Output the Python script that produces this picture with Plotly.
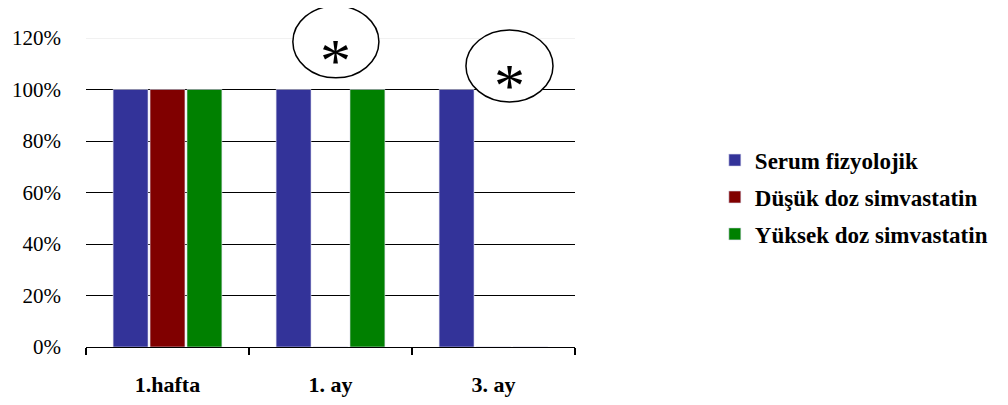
import plotly.graph_objects as go

categories = ["1.hafta", "1. ay", "3. ay"]
series_names = ["Serum fizyolojik", "Düşük doz simvastatin", "Yüksek doz simvastatin"]
serum = [100, 100, 100]
dusuk = [100, 0, 0]
yuksek = [100, 100, 0]
colors = ["#333399", "#800000", "#008000"]
y_ticks = [0, 20, 40, 60, 80, 100, 120]
y_tick_labels = ["0%", "20%", "40%", "60%", "80%", "100%", "120%"]

fig = go.Figure()
for name, vals, col in zip(series_names, [serum, dusuk, yuksek], colors):
    fig.add_trace(go.Bar(
        x=categories, y=vals, name=name, legendgroup=name,
        marker=dict(color=col, line=dict(color="#dcdcec", width=0.6)),
    ))

serif = "Times New Roman, Liberation Serif, DejaVu Serif, serif"

fig.update_layout(
    width=1000, height=397,
    margin=dict(l=78, r=433, t=30, b=58, autoexpand=False),
    paper_bgcolor="white", plot_bgcolor="white",
    barmode="group", bargap=0.32, bargroupgap=0.055,
    font=dict(family=serif, size=20, color="black"),
    showlegend=True,
    legend=dict(
        x=1.286, y=0.485, xanchor="left", yanchor="middle",
        font=dict(family=serif, size=23, color="black", weight="bold"),
        traceorder="grouped", tracegroupgap=4,
        itemwidth=30,
    ),
)

fig.update_xaxes(
    type="category", showline=True, linecolor="black", linewidth=1,
    ticks="outside", tickson="boundaries", ticklen=7, tickcolor="black", tickwidth=1.5,
    tickfont=dict(family=serif, size=22, color="black", weight="bold"),
    ticklabelstandoff=18, showgrid=False, automargin=False,
)
fig.update_yaxes(
    range=[0, 120], tickvals=y_ticks, ticktext=y_tick_labels,
    showgrid=True, gridcolor="black", gridwidth=1.2,
    zeroline=False, showline=False, ticks="",
    tickfont=dict(family=serif, size=21, color="black"),
    ticklabelstandoff=24, automargin=False,
)

# top gridline light gray
fig.add_shape(type="line", xref="paper", yref="y", x0=0, x1=1, y0=120, y1=120,
              line=dict(color="#e4e4e4", width=1.2), layer="above")

# circled asterisks
ellipses = [
    (0.423, 0.871, 0.599, 1.104),
    (0.777, 0.793, 0.955, 1.026),
]
for x0, y0, x1, y1 in ellipses:
    fig.add_shape(type="circle", xref="paper", yref="paper", x0=x0, y0=y0, x1=x1, y1=y1,
                  line=dict(color="black", width=1.5), fillcolor="white", layer="above")
    fig.add_annotation(xref="paper", yref="paper", x=(x0 + x1) / 2, y=(y0 + y1) / 2 - 0.06,
                       text="*", showarrow=False,
                       font=dict(family=serif, size=62, color="black"),
                       xanchor="center", yanchor="middle")

fig.write_html("out.html")
